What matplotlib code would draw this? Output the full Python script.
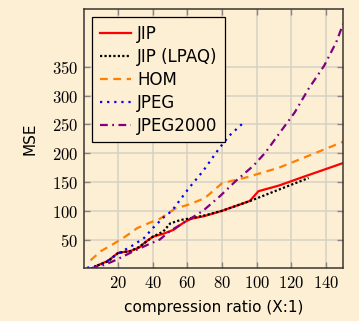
import matplotlib
matplotlib.use("Agg")
import matplotlib.pyplot as plt
from matplotlib.ticker import FixedLocator, FuncFormatter

# values
jip_x = [8, 14, 20, 27, 32, 35, 40, 46, 52, 58, 62, 70, 80, 96, 101, 113, 128, 150]
jip_y = [5, 13, 27, 30, 36, 44, 55, 60, 67, 80, 86, 91, 100, 117, 134, 144, 160, 183]

lpaq_x = [8, 14, 20, 27, 32, 40, 46, 50, 56, 62, 70, 80, 97, 113, 130]
lpaq_y = [5, 12, 27, 30, 37, 55, 64, 78, 84, 87, 92, 100, 118, 137, 157]

hom_x = [4, 10, 17, 24, 31, 38, 44, 53, 61, 70, 80, 94, 113, 132, 150]
hom_y = [14, 30, 42, 55, 70, 79, 86, 104, 111, 122, 148, 158, 175, 198, 220]

jpeg_x = [2, 7, 12, 19, 29, 35, 40, 46, 51, 61, 69, 78, 84, 92]
jpeg_y = [1, 4, 9, 24, 41, 53, 70, 88, 100, 140, 169, 207, 230, 252]

j2k_x = [4, 12, 19, 29, 37, 44, 50, 61, 69, 79, 88, 98, 105, 112, 122, 130, 139, 146, 150]
j2k_y = [0, 6, 15, 30, 41, 50, 65, 85, 100, 126, 152, 178, 201, 230, 271, 312, 352, 393, 425]

x_ticks = [20, 40, 60, 80, 100, 120, 140]
y_ticks = [50, 100, 150, 200, 250, 300, 350]

bg = "#fdefd4"
plt.rcParams["mathtext.fontset"] = "cm"
plt.rcParams["font.family"] = "DejaVu Sans"

fig = plt.figure(figsize=(3.59, 3.21), dpi=100, facecolor=bg)
ax = fig.add_axes([0.233, 0.164, 0.723, 0.807], facecolor=bg)

ax.plot(jip_x, jip_y, color="red", lw=1.6, label="JIP")
ax.plot(lpaq_x, lpaq_y, color="black", lw=1.6, ls=(0, (1, 1.0)), label="JIP (LPAQ)")
ax.plot(hom_x, hom_y, color="#ff8000", lw=1.6, ls=(0, (3.5, 2.5)), label="HOM")
ax.plot(jpeg_x, jpeg_y, color="blue", lw=1.6, ls=(0, (1, 2.2)), label="JPEG")
ax.plot(j2k_x, j2k_y, color="purple", lw=1.6, ls=(0, (3.5, 2, 0.8, 2)), label="JPEG2000")

ax.set_xlim(0, 150)
ax.set_ylim(0, 450)
ax.xaxis.set_major_locator(FixedLocator(x_ticks))
ax.yaxis.set_major_locator(FixedLocator(y_ticks))
fmt = FuncFormatter(lambda v, p: r"$%d$" % v)
ax.xaxis.set_major_formatter(fmt)
ax.yaxis.set_major_formatter(fmt)
ax.tick_params(direction="in", top=True, right=True, length=4, width=1,
               color="#8a8580", labelsize=12, pad=4)
ax.grid(True, color="#d6d0c4", lw=1.1)
ax.set_axisbelow(True)
for s in ax.spines.values():
    s.set_color("#3a3530")
    s.set_linewidth(1.1)

ax.set_xlabel("compression ratio (X:1)", fontsize=11, labelpad=6)
ax.set_ylabel("MSE", fontsize=11, labelpad=10)

leg = ax.legend(loc="upper left", bbox_to_anchor=(0.033, 0.969), fontsize=12,
                frameon=True, fancybox=False, facecolor=bg, edgecolor="black",
                framealpha=1, handlelength=1.85, handletextpad=0.4,
                labelspacing=0.3, borderpad=0.45, borderaxespad=0)
leg.get_frame().set_linewidth(0.9)

fig.savefig("out.png", dpi=100, facecolor=bg)
